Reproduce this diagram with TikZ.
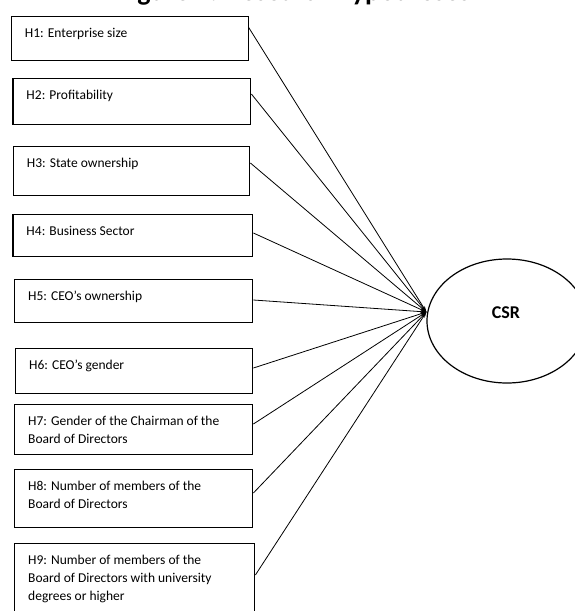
\documentclass[tikz,border=0pt]{standalone}
\usepackage{fontspec}
\setmainfont{Carlito}
\usetikzlibrary{arrows.meta,shapes.geometric}
\begin{document}
\begin{tikzpicture}[x=1pt,y=-1pt,
  hypbox/.style={draw=black, line width=1.4pt, inner sep=0pt, anchor=north west},
  hyptext/.style={anchor=base west, inner sep=0pt, align=left,
    font=\fontsize{13.5}{18}\selectfont},
  link/.style={draw=black, line width=0.8pt, -{Stealth[length=6pt,width=3.5pt]}},
  latent/.style={draw=black, ellipse, line width=1.2pt, minimum width=160pt,
    minimum height=124pt, inner sep=0pt}]
\useasboundingbox (0,0) rectangle (575,611);
\clip (0,0) rectangle (575,611);

% title (runs off the top edge)
\node[anchor=base, inner sep=0pt, font=\bfseries\fontsize{28}{32}\selectfont]
  (title) at (294,0) {Figure 1: Research hypotheses};

% hypothesis boxes
\node[hypbox, minimum width=237.3pt, minimum height=44pt] (h1) at (10.7,16) {};
\node[hypbox, minimum width=237.7pt, minimum height=46pt] (h2) at (12.3,78) {};
\node[hypbox, minimum width=236.3pt, minimum height=49pt] (h3) at (12.7,146) {};
\node[hypbox, minimum width=239.7pt, minimum height=42pt] (h4) at (12.3,214) {};
\node[hypbox, minimum width=238pt, minimum height=43pt] (h5) at (14,279) {};
\node[hypbox, minimum width=237pt, minimum height=45pt] (h6) at (15,348) {};
\node[hypbox, minimum width=238pt, minimum height=50pt] (h7) at (14,404) {};
\node[hypbox, minimum width=238pt, minimum height=58pt] (h8) at (14,469) {};
\node[hypbox, minimum width=240pt, minimum height=85pt] (h9) at (14,543) {};

% box texts (multi-line texts are anchored at the baseline of their last line)
\node[hyptext] (t1) at ([xshift=14pt,yshift=-21.7pt]h1.north west) {H1: Enterprise size};
\node[hyptext] (t2) at ([xshift=14pt,yshift=-21.7pt]h2.north west) {H2: Profitability};
\node[hyptext] (t3) at ([xshift=14pt,yshift=-21.7pt]h3.north west) {H3: State ownership};
\node[hyptext] (t4) at ([xshift=14pt,yshift=-21.7pt]h4.north west) {H4: Business Sector};
\node[hyptext] (t5) at ([xshift=14pt,yshift=-21.7pt]h5.north west) {H5: CEO’s ownership};
\node[hyptext] (t6) at ([xshift=14pt,yshift=-21.7pt]h6.north west) {H6: CEO’s gender};
\node[hyptext] (t7) at ([xshift=14pt,yshift=-39.7pt]h7.north west)
  {H7: Gender of the Chairman of the\\Board of Directors};
\node[hyptext] (t8) at ([xshift=14pt,yshift=-39.7pt]h8.north west)
  {H8: Number of members of the\\Board of Directors};
\node[hyptext] (t9) at ([xshift=14pt,yshift=-57.7pt]h9.north west)
  {H9: Number of members of the\\Board of Directors with university\\degrees or higher};

% dependent construct
\node[latent] (csr) at (507,321) {};
\node[inner sep=0pt, font=\bfseries\fontsize{18}{22}\selectfont] (csrlabel) at (506,312.5) {CSR};
\coordinate (tip) at ([yshift=9pt]csr.west);

% paths
\draw[link] ([xshift=-1pt,yshift=-11pt]h1.north east) -- (tip);
\draw[link] ([yshift=-16pt]h2.north east) -- (tip);
\draw[link] ([yshift=-17pt]h3.north east) -- (tip);
\draw[link] ([yshift=-19pt]h4.north east) -- (tip);
\draw[link] ([yshift=-21pt]h5.north east) -- (tip);
\draw[link] ([yshift=-20pt]h6.north east) -- (tip);
\draw[link] ([yshift=-20pt]h7.north east) -- (tip);
\draw[link] ([yshift=-24pt]h8.north east) -- (tip);
\draw[link] ([yshift=-32pt]h9.north east) -- (tip);
\end{tikzpicture}
\end{document}
